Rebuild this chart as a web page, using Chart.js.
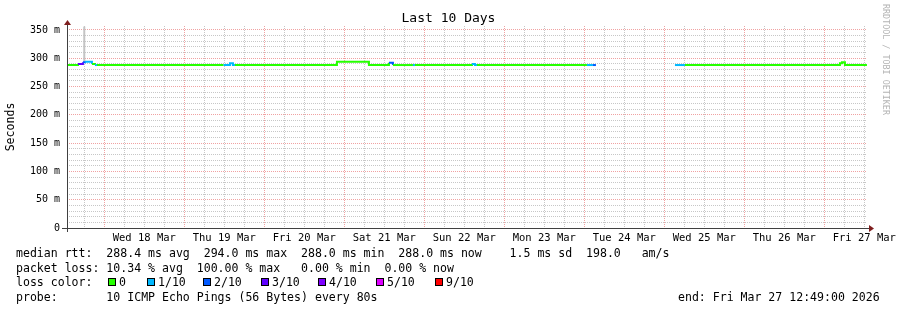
<!DOCTYPE html>
<html>
<head>
<meta charset="utf-8">
<script src="https://cdn.jsdelivr.net/npm/chart.js@4.4.0/dist/chart.umd.min.js"></script>
<style>
  body { margin: 0; background: #fff; }
  #wrap { position: relative; width: 897px; height: 310px; font-family: 'DejaVu Sans Mono', monospace; color: #000; }
  #chart { position: absolute; left: 0; top: 0; }
  .txt { position: absolute; white-space: pre; font-size: 11.55px; line-height: 14px; }
  .sw { position: absolute; top: 278px; width: 8px; height: 8px; box-sizing: border-box; border: 1px solid #000; }
  #title { position: absolute; left: 0; width: 897px; top: 10px; text-align: center; font-size: 13px; line-height: 16px; }
  #mark { position: absolute; left: 881px; top: 4px; writing-mode: vertical-rl; font-size: 8.4px; color: #b4b4b4; white-space: pre; }
</style>
</head>
<body>
<div id="wrap">
  <canvas id="chart" width="897" height="310"></canvas>
  <div id="title">Last 10 Days</div>
  <div id="mark">RRDTOOL / TOBI OETIKER</div>
  <div class="txt" style="left:16px;top:246px">median rtt:  288.4 ms avg  294.0 ms max  288.0 ms min  288.0 ms now    1.5 ms sd  198.0   am/s</div>
  <div class="txt" style="left:16px;top:261px">packet loss: 10.34 % avg  100.00 % max   0.00 % min  0.00 % now</div>
  <div class="txt" style="left:16px;top:275px">loss color:</div>
  <div id="lossLegend"></div>
  <div class="txt" style="left:16px;top:290px">probe:       10 ICMP Echo Pings (56 Bytes) every 80s</div>
  <div class="txt" style="left:678px;top:290px">end: Fri Mar 27 12:49:00 2026</div>
</div>
<script>
// hours counted from Tue 17 Mar 00:00, window is the last 10 days up to 12:49 on Fri 27 Mar
var startHour = 12.8167;
var endHour = 252.8167;

// median rtt (ms), value holds from each hour until the next one
var sampleHours = [12.8, 16.1, 17.6, 18.2, 20.3, 21.2, 21.8, 59.8, 61.7, 62.6, 63.2, 93.8, 103.4, 109.4, 110.6,
                   116.6, 117.2, 134.3, 135.2, 135.8, 168.8, 170.6, 171.5, 171.6, 195.2, 198.2, 244.7, 245.3, 246.2, 252.8];
var medianRtt = [288, 290, 293, 294, 290, 288, 288, 288, 291, 288, 288, 294, 288, 292, 288,
                 288, 288, 290, 288, 288, 288, 288, 288, null, 288, 288, 291, 293, 288, 288];
var lossTenths = [0, 3, 2, 1, 0, 1, 0, 1, 1, 1, 0, 0, 0, 2, 0,
                  1, 0, 1, 1, 0, 1, 2, 2, 0, 1, 0, 0, 0, 0, 0];

// smoke (spread of the pings)
var smokeHours = [18.0, 18.0];
var smokeRtt = [292, 356];

var lossLabels = ['0', '1/10', '2/10', '3/10', '4/10', '5/10', '9/10'];
var lossColors = ['#26ff00', '#00b8ff', '#0059ff', '#5e00ff', '#7e00ff', '#dd00ff', '#ff0000'];
var lossIndex = {0: 0, 1: 1, 2: 2, 3: 3, 4: 4, 5: 5, 9: 6};

var dayLabels = ['Wed 18 Mar', 'Thu 19 Mar', 'Fri 20 Mar', 'Sat 21 Mar', 'Sun 22 Mar',
                 'Mon 23 Mar', 'Tue 24 Mar', 'Wed 25 Mar', 'Thu 26 Mar', 'Fri 27 Mar'];
var dayLabelHours = [36, 60, 84, 108, 132, 156, 180, 204, 228, 252];

var yMax = 357;
var yLabelStep = 50;

// legend slots
var legendX = [108, 147, 203, 261, 318, 376, 435];
var legendHtml = '';
lossLabels.forEach(function(l, i) {
    legendHtml += '<div class="sw" style="left:' + legendX[i] + 'px;background:' + lossColors[i] + '"></div>';
    legendHtml += '<div class="txt" style="left:' + (legendX[i] + 11) + 'px;top:275px">' + l + '</div>';
});
document.getElementById('lossLegend').innerHTML = legendHtml;

var gridHours = [];
for (var h = 18; h < endHour; h += 6) gridHours.push(h);
var gridRtt = [];
for (var r = 0; r < yMax; r += 10) gridRtt.push(r);

var minorGrid = 'rgba(143,143,143,0.5)';
var majorGrid = 'rgba(222,48,48,0.45)';

var axisArrows = {
    id: 'axisArrows',
    afterDatasetsDraw: function(chart) {
        var ctx = chart.ctx, a = chart.chartArea;
        ctx.save();
        ctx.strokeStyle = '#404040';
        ctx.lineWidth = 1;
        ctx.beginPath();
        ctx.moveTo(a.left - 5, a.bottom + 0.5);
        ctx.lineTo(a.right + 3, a.bottom + 0.5);
        ctx.moveTo(a.left + 0.5, a.bottom + 4);
        ctx.lineTo(a.left + 0.5, a.top - 2);
        ctx.stroke();
        ctx.fillStyle = '#7f1f1f';
        ctx.beginPath();
        ctx.moveTo(a.right + 2, a.bottom - 3);
        ctx.lineTo(a.right + 7, a.bottom + 0.5);
        ctx.lineTo(a.right + 2, a.bottom + 4);
        ctx.closePath();
        ctx.fill();
        ctx.beginPath();
        ctx.moveTo(a.left - 3, a.top - 1);
        ctx.lineTo(a.left + 0.5, a.top - 6);
        ctx.lineTo(a.left + 4, a.top - 1);
        ctx.closePath();
        ctx.fill();
        ctx.restore();
    }
};

Chart.defaults.font.family = "'DejaVu Sans Mono', monospace";
Chart.defaults.color = '#000';

new Chart(document.getElementById('chart'), {
    type: 'line',
    data: {
        datasets: [{
            label: 'median rtt',
            data: sampleHours.map(function(h, i) { return {x: h, y: medianRtt[i]}; }),
            borderWidth: 2,
            pointRadius: 0,
            stepped: true,
            spanGaps: false,
            borderColor: lossColors[0],
            segment: {
                borderColor: function(ctx) { return lossColors[lossIndex[lossTenths[ctx.p0DataIndex]]]; }
            }
        }, {
            label: 'smoke',
            data: smokeHours.map(function(h, i) { return {x: h, y: smokeRtt[i]}; }),
            borderWidth: 2,
            pointRadius: 0,
            borderColor: '#c4c4c4'
        }]
    },
    options: {
        responsive: false,
        animation: false,
        layout: { padding: { left: 0, right: 30, top: 26, bottom: 0 } },
        plugins: { legend: { display: false }, tooltip: { enabled: false }, title: { display: false } },
        scales: {
            x: {
                type: 'linear',
                min: startHour,
                max: endHour,
                afterBuildTicks: function(s) { s.ticks = gridHours.map(function(v) { return {value: v}; }); },
                afterFit: function(s) { s.height = 82; s.paddingLeft = 0; s.paddingRight = 0; },
                grid: {
                    drawTicks: false,
                    lineWidth: 1,
                    color: function(ctx) { return ctx.tick && ctx.tick.value % 24 === 0 ? majorGrid : minorGrid; }
                },
                border: { display: false, dash: [1, 1] },
                ticks: {
                    autoSkip: false,
                    maxRotation: 0,
                    padding: 4,
                    font: { size: 10.5 },
                    callback: function(v) {
                        var i = dayLabelHours.indexOf(v);
                        return i >= 0 ? dayLabels[i] : '';
                    }
                }
            },
            y: {
                min: 0,
                max: yMax,
                afterBuildTicks: function(s) { s.ticks = gridRtt.map(function(v) { return {value: v}; }); },
                afterFit: function(s) { s.width = 67; s.paddingTop = 0; s.paddingBottom = 0; },
                grid: {
                    drawTicks: false,
                    lineWidth: 1,
                    color: function(ctx) { return ctx.tick && ctx.tick.value % yLabelStep === 0 ? majorGrid : minorGrid; }
                },
                border: { display: false, dash: [1, 1] },
                title: {
                    display: true,
                    text: 'Seconds',
                    font: { size: 11.55 },
                    padding: { top: 4, bottom: 0 }
                },
                ticks: {
                    autoSkip: false,
                    padding: 7,
                    font: { size: 10 },
                    callback: function(v) {
                        if (v % yLabelStep !== 0) return '';
                        return v === 0 ? '0' : v + ' m';
                    }
                }
            }
        }
    },
    plugins: [axisArrows]
});
</script>
</body>
</html>
